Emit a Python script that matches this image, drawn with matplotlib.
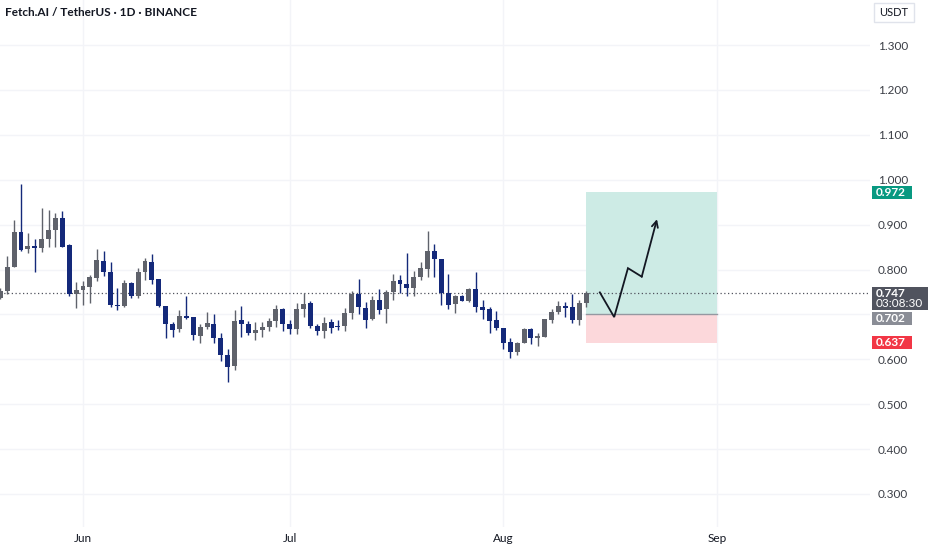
import numpy as np
import pandas as pd
import matplotlib
matplotlib.use("Agg")
import matplotlib.pyplot as plt
import matplotlib.dates as mdates
import matplotlib.transforms as mtransforms
from matplotlib.patches import Rectangle

plt.rcParams['font.family'] = ['Lato', 'DejaVu Sans']

# Daily candles, 20 May -> 13 Aug
dates = pd.date_range("2025-05-20", "2025-08-13", freq="D")
opens = [0.737, 0.753, 0.806, 0.884, 0.845, 0.853, 0.848, 0.869, 0.889, 0.914,
         0.854, 0.745, 0.754, 0.762, 0.782, 0.820, 0.795, 0.722, 0.718, 0.771,
         0.742, 0.795, 0.816, 0.778, 0.719, 0.678, 0.667, 0.696, 0.694, 0.653,
         0.673, 0.679, 0.648, 0.610, 0.584, 0.688, 0.678, 0.658, 0.665, 0.673,
         0.686, 0.711, 0.678, 0.667, 0.711, 0.725, 0.674, 0.663, 0.682, 0.675,
         0.674, 0.704, 0.746, 0.714, 0.689, 0.732, 0.711, 0.749, 0.777, 0.767,
         0.758, 0.783, 0.801, 0.841, 0.824, 0.748, 0.723, 0.741, 0.730, 0.756,
         0.717, 0.711, 0.688, 0.670, 0.638, 0.616, 0.637, 0.667, 0.648, 0.649,
         0.688, 0.705, 0.719, 0.716, 0.688, 0.725]
highs = [0.758, 0.831, 0.910, 0.990, 0.882, 0.867, 0.936, 0.933, 0.925, 0.930,
         0.857, 0.773, 0.774, 0.788, 0.846, 0.841, 0.816, 0.758, 0.777, 0.773,
         0.804, 0.825, 0.835, 0.778, 0.719, 0.682, 0.710, 0.741, 0.694, 0.679,
         0.705, 0.700, 0.659, 0.622, 0.710, 0.719, 0.685, 0.682, 0.684, 0.693,
         0.721, 0.714, 0.688, 0.725, 0.748, 0.730, 0.678, 0.695, 0.689, 0.688,
         0.714, 0.753, 0.778, 0.727, 0.740, 0.756, 0.754, 0.789, 0.788, 0.837,
         0.797, 0.817, 0.886, 0.856, 0.824, 0.789, 0.743, 0.743, 0.758, 0.795,
         0.732, 0.717, 0.707, 0.670, 0.647, 0.639, 0.669, 0.669, 0.659, 0.689,
         0.711, 0.730, 0.728, 0.745, 0.732, 0.752]
lows = [0.735, 0.745, 0.806, 0.842, 0.836, 0.795, 0.838, 0.849, 0.851, 0.849,
        0.741, 0.714, 0.722, 0.725, 0.774, 0.786, 0.716, 0.710, 0.717, 0.736,
        0.736, 0.777, 0.767, 0.717, 0.647, 0.650, 0.660, 0.690, 0.642, 0.636,
        0.667, 0.636, 0.596, 0.550, 0.576, 0.650, 0.654, 0.644, 0.649, 0.662,
        0.673, 0.663, 0.656, 0.656, 0.695, 0.669, 0.654, 0.647, 0.658, 0.665,
        0.664, 0.690, 0.701, 0.669, 0.688, 0.702, 0.680, 0.732, 0.747, 0.741,
        0.740, 0.777, 0.783, 0.784, 0.721, 0.713, 0.704, 0.729, 0.728, 0.706,
        0.690, 0.658, 0.665, 0.622, 0.604, 0.610, 0.636, 0.634, 0.630, 0.649,
        0.680, 0.700, 0.695, 0.680, 0.676, 0.716]
closes = [0.753, 0.805, 0.884, 0.843, 0.852, 0.848, 0.869, 0.889, 0.914, 0.851,
          0.745, 0.754, 0.763, 0.783, 0.821, 0.795, 0.721, 0.718, 0.771, 0.742,
          0.795, 0.819, 0.777, 0.718, 0.678, 0.665, 0.696, 0.692, 0.654, 0.673,
          0.680, 0.648, 0.610, 0.582, 0.686, 0.679, 0.658, 0.665, 0.673, 0.686,
          0.711, 0.678, 0.667, 0.711, 0.723, 0.674, 0.663, 0.680, 0.670, 0.671,
          0.704, 0.746, 0.716, 0.688, 0.732, 0.710, 0.751, 0.775, 0.768, 0.758,
          0.783, 0.803, 0.841, 0.824, 0.747, 0.722, 0.741, 0.730, 0.756, 0.717,
          0.710, 0.686, 0.669, 0.637, 0.616, 0.637, 0.667, 0.647, 0.652, 0.689,
          0.705, 0.719, 0.714, 0.688, 0.725, 0.747]

# Long position tool
entry = 0.702
target = 0.972
stop = 0.637
last_price = 0.747
countdown = "03:08:30"
position_end = pd.Timestamp("2025-09-01")

# Sketched path on the chart
path_dates = pd.to_datetime(["2025-08-15 00:00", "2025-08-17 02:00", "2025-08-19 02:00",
                             "2025-08-21 02:00", "2025-08-23 07:00"])
path_prices = [0.749, 0.694, 0.803, 0.784, 0.912]

price_ticks = [0.3, 0.4, 0.5, 0.6, 0.8, 0.9, 1.0, 1.1, 1.2, 1.3]
grid_levels = [0.3, 0.4, 0.5, 0.6, 0.7, 0.8, 0.9, 1.0, 1.1, 1.2, 1.3]
month_ticks = pd.to_datetime(["2025-06-01", "2025-07-01", "2025-08-01", "2025-09-01"])
month_labels = ["Jun", "Jul", "Aug", "Sep"]

UP = "#5f626b"
DOWN = "#14297a"
TXT = "#131722"
GRID = "#f3f4f8"

W, H = 932, 550
fig = plt.figure(figsize=(W / 100, H / 100), dpi=100)
ax = fig.add_axes([0, (H - 527) / H, 870 / W, 527 / H])

# pixel helper (origin top-left of the image)
px = mtransforms.Affine2D().scale(1 / W, -1 / H).translate(0, 1) + fig.transFigure

jun1 = mdates.date2num(pd.Timestamp("2025-06-01"))
ppd = 6.891
ax.set_xlim(jun1 - 83 / ppd, jun1 + (870 - 83) / ppd)
ax.set_ylim(1.3 - 482 / 449, 1.3 + 45 / 449)

for lvl in grid_levels:
    ax.axhline(lvl, color=GRID, lw=1, zorder=0)
for m in month_ticks:
    ax.axvline(mdates.date2num(m), color=GRID, lw=1, zorder=0)

# candles
x = mdates.date2num(dates)
o = np.array(opens); h = np.array(highs); l = np.array(lows); c = np.array(closes)
cols = np.where(c >= o, UP, DOWN)
ax.vlines(x, l, h, colors=cols, lw=1, zorder=3)
body = np.maximum(np.abs(c - o), 0.0025)
ax.bar(x, body, bottom=np.minimum(o, c), width=0.72, color=cols, zorder=4, linewidth=0)

# last price dotted line
ax.axhline(last_price, color="#50535e", lw=0.9, ls=(0, (1, 2)), zorder=2)

# position box
x0 = x[-1]
x1 = mdates.date2num(position_end)
ax.add_patch(Rectangle((x0, entry), x1 - x0, target - entry, facecolor="#cdebe5", edgecolor="none", zorder=1))
ax.add_patch(Rectangle((x0, stop), x1 - x0, entry - stop, facecolor="#fcd8db", edgecolor="none", zorder=1))
ax.plot([x0, x1], [entry, entry], color="#9598a1", lw=1, zorder=2)

# sketched path
pxd = mdates.date2num(path_dates)
ax.plot(pxd[:-1], path_prices[:-1], color=TXT, lw=1.3, zorder=5, solid_joinstyle="miter")
ax.annotate("", xy=(pxd[-1], path_prices[-1]), xytext=(pxd[-2], path_prices[-2]),
            arrowprops=dict(arrowstyle="->", lw=1.3, color=TXT, shrinkA=0, shrinkB=0,
                            mutation_scale=11), zorder=5)

# axes styling
for s in ax.spines.values():
    s.set_visible(False)
ax.yaxis.tick_right()
ax.set_yticks(price_ticks)
ax.set_yticklabels([f"{v:.3f}" for v in price_ticks])
ax.tick_params(axis="y", length=0, pad=5.5, labelsize=8.5, labelcolor="#3a3d45")
ax.set_xticks(mdates.date2num(month_ticks))
ax.set_xticklabels(month_labels)
ax.tick_params(axis="x", length=0, pad=4, labelsize=8.5, labelcolor=TXT)

# price labels on the scale
bt = mtransforms.blended_transform_factory(px, ax.transData)
hpx = 1 / 449

def tag(price, lines, color, width, height=13, shift=0):
    # shift: pixels the label is pushed down to avoid overlapping
    centre = price - shift * hpx
    top = centre + 6.5 * hpx
    ax.add_patch(Rectangle((872, top - height * hpx), width, height * hpx, transform=bt,
                           facecolor=color, edgecolor="none", clip_on=False, zorder=10))
    for i, t in enumerate(lines):
        ax.text(876, centre - i * 10.5 * hpx, t, transform=bt, color="white",
                fontsize=8.5, fontweight="bold" if i == 0 else "normal",
                va="center", ha="left", clip_on=False, zorder=11)

tag(target, [f"{target:.3f}"], "#089981", 40)
tag(last_price, [f"{last_price:.3f}", countdown], "#50535e", 56, height=23)
tag(entry, [f"{entry:.3f}"], "#8a8d96", 40, shift=4.5)
tag(stop, [f"{stop:.3f}"], "#f23645", 40)

# title and currency box
fig.text(5, 12, "Fetch.AI / TetherUS · 1D · BINANCE", transform=px, fontsize=8.5,
         fontweight="bold", color=TXT, va="center", ha="left")
fig.patches.append(Rectangle((874, 3), 40, 19, transform=px, facecolor="white",
                             edgecolor="#e0e3eb", lw=1))
fig.text(894, 12.5, "USDT", transform=px, fontsize=8, color=TXT, va="center", ha="center")

fig.savefig("out.png", dpi=100)
